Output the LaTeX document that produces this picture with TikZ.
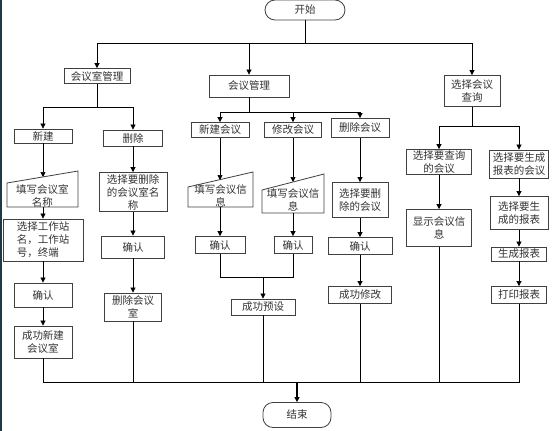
\documentclass[tikz,border=0pt]{standalone}
\usepackage{fontspec}
\newfontfamily\cjk{Noto Sans CJK SC}
\usetikzlibrary{arrows.meta}
\definecolor{Ink}{HTML}{333333}
\definecolor{Edge}{HTML}{404040}
\definecolor{Frame}{HTML}{1F3A44}

\begin{document}
\begin{tikzpicture}[x=1pt,y=-1pt,
  every node/.style={text=Ink,font=\cjk\fontsize{10.5}{13}\selectfont,inner sep=1pt,align=center},
  box/.style={draw=Edge,line width=.8pt,fill=white},
  minput/.style={draw=Edge,line width=.8pt},
  sz/.style 2 args={minimum width=#1pt,minimum height=#2pt},
  term/.style={box,rounded corners=10pt},
  ln/.style={line width=.7pt},
  arr/.style={ln,-{Triangle[length=5pt,width=5pt]}}]
\useasboundingbox (0,0) rectangle (555,431);
\fill[Frame] (0,0) rectangle (2,431);
\node[term,sz={80}{20}] (start) at (305,10) {开始};
\node[box,sz={66}{15}] (hys) at (97,76) {会议室管理};
\node[box,sz={80}{22}] (hy) at (249,86) {会议管理};
\node[box,sz={56}{31}] (cx) at (472,91) {选择会议\\查询};
\node[box,sz={58}{14}] (xj) at (43,136) {新建};
\node[box,sz={59}{16}] (sc) at (133,138) {删除};
\node[box,sz={58}{15}] (xjhy) at (220,130) {新建会议};
\node[box,sz={57}{15}] (xghy) at (293,130) {修改会议};
\node[box,sz={58}{19}] (schy) at (360,128) {删除会议};
\node[box,sz={65}{25}] (xzcx) at (439,162) {选择要查询\\的会议};
\node[box,sz={59}{28}] (xzbh) at (519,164) {选择要生成\\报表的会议};
\node (tx1) at (42.5,195.5) {填写会议室\\名称};
\draw[minput] (tx1.center) ++(-35.5,11.5) -- ++(71,0) -- ++(0,-36) -- ++(-71,12) -- cycle;
\coordinate (tx1in) at (43,177);
\coordinate (tx1out) at (43,207);
\node[box,sz={80}{42},align=left] (gzz) at (43,240) {选择工作站\\名，工作站\\号，终端};
\node[box,sz={58}{24}] (qr1) at (43,295) {确认};
\node[box,sz={58}{32}] (cg1) at (43,342) {成功新建\\会议室};
\node[box,sz={68}{39}] (xzsc) at (133,192) {选择要删除\\的会议室名\\称};
\node[box,sz={63}{22}] (qr2) at (133,247) {确认};
\node[box,sz={57}{28}] (scs) at (133,307) {删除会议\\室};
\node (tx2) at (220.5,196) {填写会议信\\息};
\draw[minput] (tx2.center) ++(-32.5,11) -- ++(65,0) -- ++(0,-35) -- ++(-65,15) -- cycle;
\coordinate (tx2in) at (220,180);
\coordinate (tx2out) at (220,207);
\node[box,sz={50}{17}] (qr3) at (220,245) {确认};
\node (tx3) at (293,200) {填写会议信\\息};
\draw[minput] (tx3.center) ++(-31,13) -- ++(62,0) -- ++(0,-39) -- ++(-62,16) -- cycle;
\coordinate (tx3in) at (293,182);
\coordinate (tx3out) at (293,213);
\node[box,sz={38}{17}] (qr4) at (293,245) {确认};
\coordinate (j1) at (263,277);
\node[box,sz={64}{16}] (cgys) at (263,307) {成功预设};
\node[box,sz={56}{35}] (xzschy) at (360,200) {选择要删\\除的会议};
\node[box,sz={64}{17}] (qr5) at (360,246) {确认};
\node[box,sz={63}{17}] (cgxg) at (360,295) {成功修改};
\node[box,sz={65}{37}] (xsxx) at (439,228) {显示会议信\\息};
\node[box,sz={58}{33}] (xzbb) at (519,213) {选择要生\\成的报表};
\node[box,sz={55}{14}] (scbb) at (519,254) {生成报表};
\node[box,sz={55}{17}] (dybb) at (519,295) {打印报表};
\node[term,sz={68}{25}] (end) at (297,415) {结束};
\coordinate (b0) at (305,43);
\coordinate (b1) at (97,107);
\coordinate (b2) at (249,112);
\coordinate (b3) at (472,126);
\coordinate (bus) at (297,382);
\draw[ln] (start) -- (b0);
\draw[arr] (b0) -| (hys);
\draw[arr] (b0) -| (hy);
\draw[arr] (b0) -| (cx);
\draw[ln] (hys) -- (b1);
\draw[arr] (b1) -| (xj);
\draw[arr] (b1) -| (sc);
\draw[ln] (hy) -- (b2);
\draw[arr] (b2) -| (xjhy);
\draw[arr] (b2) -| (xghy);
\draw[arr] (b2) -| (schy);
\draw[ln] (cx) -- (b3);
\draw[arr] (b3) -| (xzcx);
\draw[arr] (b3) -| (xzbh);
\draw[arr] (xj) -- (tx1in);
\draw[arr] (tx1out) -- (gzz);
\draw[arr] (gzz) -- (qr1);
\draw[arr] (qr1) -- (cg1);
\draw[arr] (sc) -- (xzsc);
\draw[arr] (xzsc) -- (qr2);
\draw[arr] (qr2) -- (scs);
\draw[arr] (xjhy) -- (tx2in);
\draw[arr] (tx2out) -- (qr3);
\draw[arr] (xghy) -- (tx3in);
\draw[arr] (tx3out) -- (qr4);
\draw[ln] (qr3) |- (j1);
\draw[ln] (qr4) |- (j1);
\draw[arr] (j1) -- (cgys);
\draw[arr] (schy) -- (xzschy);
\draw[arr] (xzschy) -- (qr5);
\draw[arr] (qr5) -- (cgxg);
\draw[arr] (xzcx) -- (xsxx);
\draw[arr] (xzbh) -- (xzbb);
\draw[arr] (xzbb) -- (scbb);
\draw[arr] (scbb) -- (dybb);
\draw[ln] (cg1) |- (bus);
\draw[ln] (dybb) |- (bus);
\draw[ln] (scs) -- (scs|-bus);
\draw[ln] (cgys) -- (cgys|-bus);
\draw[ln] (cgxg) -- (cgxg|-bus);
\draw[ln] (xsxx) -- (xsxx|-bus);
\draw[arr,line width=1.4pt] (bus) -- (end);
\end{tikzpicture}
\end{document}
